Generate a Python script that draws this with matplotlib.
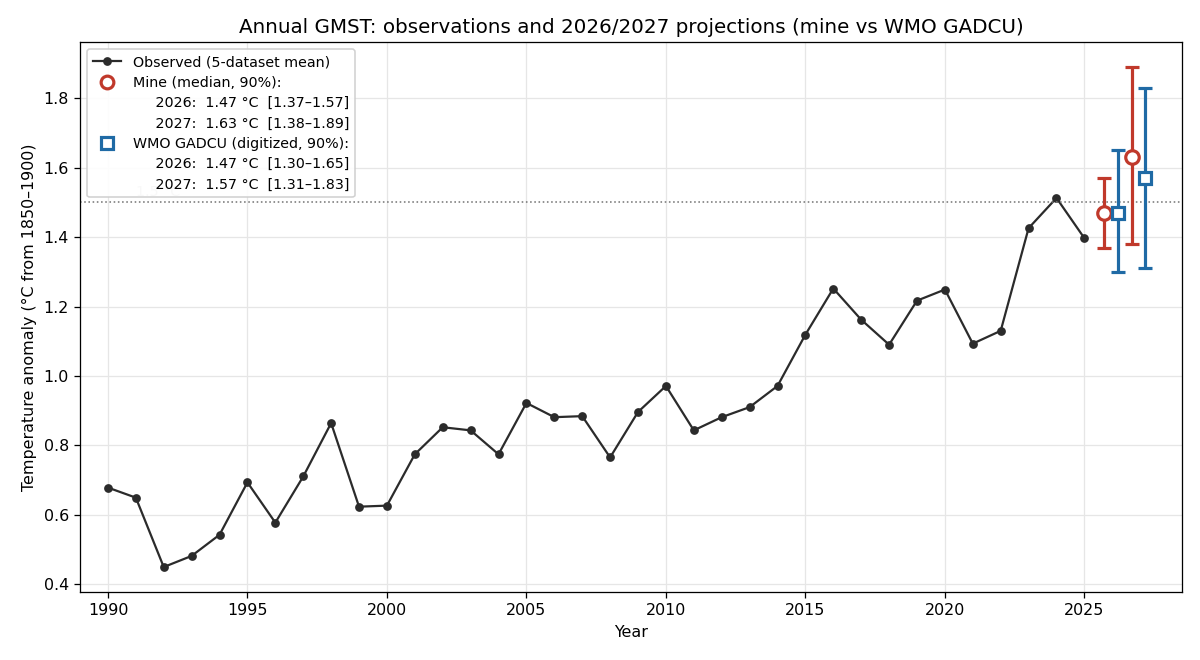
import numpy as np
import matplotlib
matplotlib.use("Agg")
import matplotlib.pyplot as plt
from matplotlib.lines import Line2D

# observed annual GMST anomaly (5-dataset mean)
years = list(range(1990, 2026))
obs = [0.678, 0.649, 0.449, 0.481, 0.542, 0.693, 0.577, 0.710, 0.864, 0.623,
       0.626, 0.774, 0.852, 0.843, 0.774, 0.922, 0.881, 0.884, 0.765, 0.896,
       0.971, 0.843, 0.881, 0.910, 0.971, 1.119, 1.252, 1.162, 1.090, 1.217,
       1.249, 1.093, 1.130, 1.426, 1.513, 1.397]

# projections: median, 5%, 95%
proj_years = [2026, 2027]
mine_med = [1.47, 1.63]
mine_lo = [1.37, 1.38]
mine_hi = [1.57, 1.89]
wmo_med = [1.47, 1.57]
wmo_lo = [1.30, 1.31]
wmo_hi = [1.65, 1.83]

RED = "#c0392b"
BLUE = "#1f6aa5"
DARK = "#2b2b2b"

fig, ax = plt.subplots(figsize=(10.5, 5.775), dpi=114.29)
fig.subplots_adjust(left=0.0667, right=0.985, top=0.936, bottom=0.103)

ax.plot(years, obs, "-o", color=DARK, lw=1.4, ms=4.5)

ax.axhline(1.5, color="#777777", ls=":", lw=1)
ax.text(1991, 1.51, "1.5 °C", color="gray", fontsize=9, va="bottom", alpha=0.5)

xm = np.array(proj_years) - 0.28
xw = np.array(proj_years) + 0.19
mm = np.array(mine_med)
wm = np.array(wmo_med)
ax.errorbar(xm, mm, yerr=[mm - np.array(mine_lo), np.array(mine_hi) - mm],
            fmt="o", color=RED, mfc="white", mec=RED, ms=8.5, mew=2,
            elinewidth=2, capsize=4.5, capthick=2, zorder=4)
ax.errorbar(xw, wm, yerr=[wm - np.array(wmo_lo), np.array(wmo_hi) - wm],
            fmt="s", color=BLUE, mfc="white", mec=BLUE, ms=8, mew=2,
            elinewidth=2, capsize=4.5, capthick=2, zorder=4)

ax.set_xlim(1989, 2028.5)
ax.set_title("Annual GMST: observations and 2026/2027 projections (mine vs WMO GADCU)", fontsize=12.5)
ax.set_xlabel("Year", fontsize=10)
ax.set_ylabel("Temperature anomaly (°C from 1850–1900)", fontsize=10)
ax.grid(True, color="#e6e6e6", lw=0.8)
ax.set_axisbelow(True)

blank = Line2D([], [], ls="none", marker="none")
handles = [
    Line2D([], [], color=DARK, marker="o", ms=4.5, lw=1.4),
    Line2D([], [], ls="none", marker="o", mfc="white", mec=RED, ms=8, mew=2),
    blank, blank,
    Line2D([], [], ls="none", marker="s", mfc="white", mec=BLUE, ms=7.5, mew=2),
    blank, blank,
]
pad = "     "
labels = [
    "Observed (5-dataset mean)",
    "Mine (median, 90%):",
    f"{pad}{proj_years[0]}:  {mine_med[0]:.2f} °C  [{mine_lo[0]:.2f}–{mine_hi[0]:.2f}]",
    f"{pad}{proj_years[1]}:  {mine_med[1]:.2f} °C  [{mine_lo[1]:.2f}–{mine_hi[1]:.2f}]",
    "WMO GADCU (digitized, 90%):",
    f"{pad}{proj_years[0]}:  {wmo_med[0]:.2f} °C  [{wmo_lo[0]:.2f}–{wmo_hi[0]:.2f}]",
    f"{pad}{proj_years[1]}:  {wmo_med[1]:.2f} °C  [{wmo_lo[1]:.2f}–{wmo_hi[1]:.2f}]",
]
ax.legend(handles, labels, loc="upper left", fontsize=9, framealpha=0.9,
          handlelength=2, labelspacing=0.45, borderaxespad=0.5)

fig.savefig("out.png")
